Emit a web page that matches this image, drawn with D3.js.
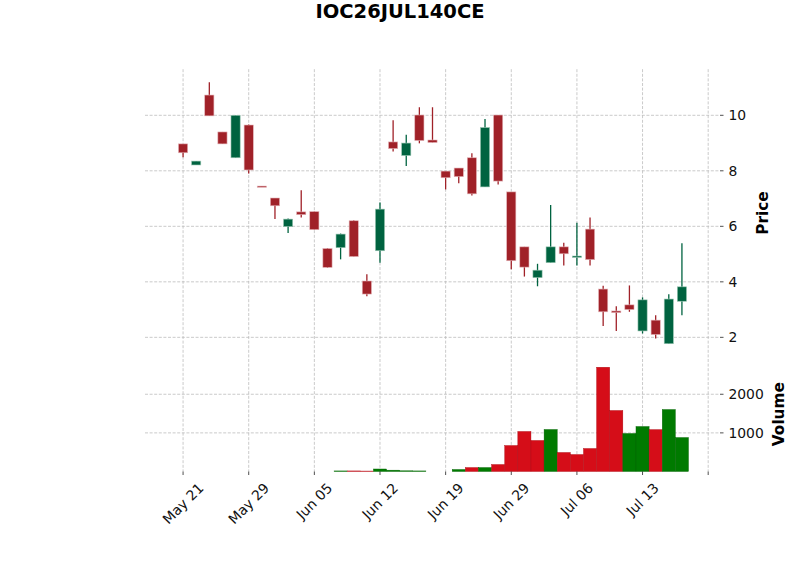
<!DOCTYPE html>
<html>
<head>
<meta charset="utf-8">
<script src="https://cdnjs.cloudflare.com/ajax/libs/d3/7.8.5/d3.min.js"></script>
<style>
  body { margin: 0; background: #fff; }
  svg { display: block; font-family: "DejaVu Sans", sans-serif; }
</style>
</head>
<body>
<div id="chart"></div>
<script>
// Données
const dates = ["2026-05-21","2026-05-22","2026-05-25","2026-05-26","2026-05-27","2026-05-29",
  "2026-06-01","2026-06-02","2026-06-03","2026-06-04","2026-06-05",
  "2026-06-08","2026-06-09","2026-06-10","2026-06-11","2026-06-12",
  "2026-06-15","2026-06-16","2026-06-17","2026-06-18","2026-06-19",
  "2026-06-22","2026-06-23","2026-06-24","2026-06-25","2026-06-29",
  "2026-06-30","2026-07-01","2026-07-02","2026-07-03","2026-07-06",
  "2026-07-07","2026-07-08","2026-07-09","2026-07-10","2026-07-13",
  "2026-07-14","2026-07-15","2026-07-16"]
const opens  = [8.97,8.21,10.73,9.40,8.47,9.65,7.45,7.02,5.99,6.52,6.53,5.20,5.23,6.20,4.03,5.12,9.04,8.55,10.01,9.11,
  7.99,8.10,8.47,7.42,10.01,7.24,5.26,4.15,4.69,5.26,4.88,5.90,3.74,2.95,3.17,2.23,2.62,1.77,3.30]
const highs  = [8.97,8.35,11.19,9.40,10.00,9.67,7.45,7.02,6.28,7.30,6.53,5.22,5.74,6.22,4.27,6.86,9.82,9.30,10.29,10.29,
  7.99,8.10,8.63,9.87,10.01,7.24,5.26,4.65,6.77,5.41,6.13,6.32,3.86,3.12,3.87,3.44,2.80,3.55,5.39]
const lows   = [8.49,8.21,9.98,8.97,8.47,7.90,7.43,6.26,5.76,6.32,5.88,4.50,4.81,4.91,3.48,4.69,8.70,8.17,8.99,9.02,
  7.33,7.55,7.11,7.42,7.51,4.45,4.19,3.84,4.69,4.59,4.59,4.59,2.41,2.23,2.92,2.14,1.96,1.77,2.80]
const closes = [8.65,8.35,9.98,8.97,10.00,8.03,7.43,6.74,6.26,6.42,5.88,4.52,5.72,4.91,3.56,6.62,8.80,9.00,9.09,9.02,
  7.75,7.79,7.17,9.56,7.63,4.76,4.53,4.42,5.26,5.01,4.93,4.80,2.92,2.89,3.00,3.35,2.10,3.38,3.82]
const volumes = [0,0,0,0,0,0,0,0,0,0,0,0,15,15,12,65,35,18,15,0,
  0,52,103,103,181,673,1037,804,1088,493,440,596,2700,1580,985,1165,1085,1605,880]

const titre = "IOC26JUL140CE"
const priceTicks = [2, 4, 6, 8, 10]
const volumeTicks = [1000, 2000]
const xTicks = [0, 5, 10, 15, 20, 25, 30, 35, 40]

// Couleurs (style "charles")
const candleUp = "#006340", candleDown = "#a02128"
const volUp = "#007a00", volDown = "#d50d18"
const gridColor = "#bcbcbc"

// Marges / panneaux
const width = 800, height = 575
const left = 145, right = 720
const priceTop = 69.2, priceBottom = 356.8
const volTop = 356.8, volBottom = 471.5

const svg = d3.select("#chart").append("svg")
  .attr("width", width)
  .attr("height", height)

const n = dates.length
const x = d3.scaleLinear().domain([-2.9, n - 1 + 2.9]).range([left, right])

const minP = d3.min(lows), maxP = d3.max(highs)
const pad = (maxP - minP) * 0.05
const yPrice = d3.scaleLinear().domain([minP - pad, maxP + pad]).range([priceBottom, priceTop])
const yVol = d3.scaleLinear().domain([0, d3.max(volumes) * 1.1]).range([volBottom, volTop])

// grille
const grid = svg.append("g")
  .attr("stroke", gridColor)
  .attr("stroke-width", 0.8)
  .attr("stroke-dasharray", "3,1.6")

grid.selectAll("line.vx").data(xTicks).enter().append("line")
  .attr("x1", d => x(d)).attr("x2", d => x(d))
  .attr("y1", priceTop).attr("y2", volBottom)

grid.selectAll("line.hp").data(priceTicks).enter().append("line")
  .attr("x1", left).attr("x2", right)
  .attr("y1", d => yPrice(d)).attr("y2", d => yPrice(d))

grid.selectAll("line.hv").data(volumeTicks).enter().append("line")
  .attr("x1", left).attr("x2", right)
  .attr("y1", d => yVol(d)).attr("y2", d => yVol(d))

// bougies
const idx = d3.range(n)
const bodyW = 0.7
const candles = svg.append("g")

candles.selectAll("line").data(idx).enter().append("line")
  .attr("x1", i => x(i)).attr("x2", i => x(i))
  .attr("y1", i => yPrice(highs[i])).attr("y2", i => yPrice(lows[i]))
  .attr("stroke", i => closes[i] >= opens[i] ? candleUp : candleDown)
  .attr("stroke-width", 1.3)

candles.selectAll("rect").data(idx).enter().append("rect")
  .attr("x", i => x(i - bodyW / 2))
  .attr("width", x(bodyW) - x(0))
  .attr("y", i => yPrice(Math.max(opens[i], closes[i])))
  .attr("height", i => Math.max(1.2, Math.abs(yPrice(opens[i]) - yPrice(closes[i]))))
  .attr("fill", i => closes[i] >= opens[i] ? candleUp : candleDown)
  .attr("stroke", i => closes[i] >= opens[i] ? "#9cc7b4" : "#e3b3b7")
  .attr("stroke-width", 0.6)

// volume (couleur selon la clôture précédente)
const volColor = i => (i > 0 && closes[i] < closes[i - 1]) ? volDown : volUp
svg.append("g").selectAll("rect").data(idx).enter().append("rect")
  .attr("x", i => x(i - 0.5))
  .attr("width", x(1) - x(0))
  .attr("y", i => yVol(volumes[i]))
  .attr("height", i => yVol(0) - yVol(volumes[i]))
  .attr("fill", volColor)
  .attr("stroke", i => d3.color(volColor(i)).darker(0.6))
  .attr("stroke-width", 0.4)

// axes de droite
const fontSize = 13.9
function rightAxis(ticks, scale, fmt){
  const g = svg.append("g")
  g.selectAll("line").data(ticks).enter().append("line")
    .attr("x1", right).attr("x2", right + 3.5)
    .attr("y1", d => scale(d)).attr("y2", d => scale(d))
    .attr("stroke", "#222").attr("stroke-width", 0.8)
  g.selectAll("text").data(ticks).enter().append("text")
    .attr("x", right + 8.4)
    .attr("y", d => scale(d))
    .attr("dy", "0.35em")
    .attr("font-size", fontSize)
    .attr("fill", "#111")
    .text(fmt)
}
rightAxis(priceTicks, yPrice, d => d)
rightAxis(volumeTicks, yVol, d => d)

svg.append("text")
  .attr("transform", `translate(768,${(priceTop + priceBottom) / 2}) rotate(-90)`)
  .attr("text-anchor", "middle")
  .attr("font-size", 15.3)
  .attr("font-weight", "bold")
  .text("Price")

svg.append("text")
  .attr("transform", `translate(784,${(volTop + volBottom) / 2}) rotate(-90)`)
  .attr("text-anchor", "middle")
  .attr("font-size", 15.3)
  .attr("font-weight", "bold")
  .text("Volume")

// axe des dates
const parse = d3.timeParse("%Y-%m-%d")
const fmtDate = d3.timeFormat("%b %d")
const xg = svg.append("g")
xg.selectAll("line").data(xTicks).enter().append("line")
  .attr("x1", d => x(d)).attr("x2", d => x(d))
  .attr("y1", volBottom).attr("y2", volBottom + 3.5)
  .attr("stroke", "#222").attr("stroke-width", 0.8)

xTicks.filter(d => d < n).forEach(function(d){
  const t = xg.append("text")
    .attr("font-size", fontSize)
    .attr("fill", "#111")
    .attr("text-anchor", "middle")
    .attr("dy", "0.35em")
    .text(fmtDate(parse(dates[d])))
  const w = t.node().getComputedTextLength()
  const h = fontSize * 1.17
  const cy = volBottom + 8.4 + (w + h) * 0.3536
  t.attr("transform", `translate(${x(d)},${cy}) rotate(-45)`)
})

// titre
svg.append("text")
  .attr("x", 400)
  .attr("y", 18)
  .attr("text-anchor", "middle")
  .attr("font-size", 19.5)
  .attr("font-weight", "bold")
  .text(titre)
</script>
</body>
</html>
